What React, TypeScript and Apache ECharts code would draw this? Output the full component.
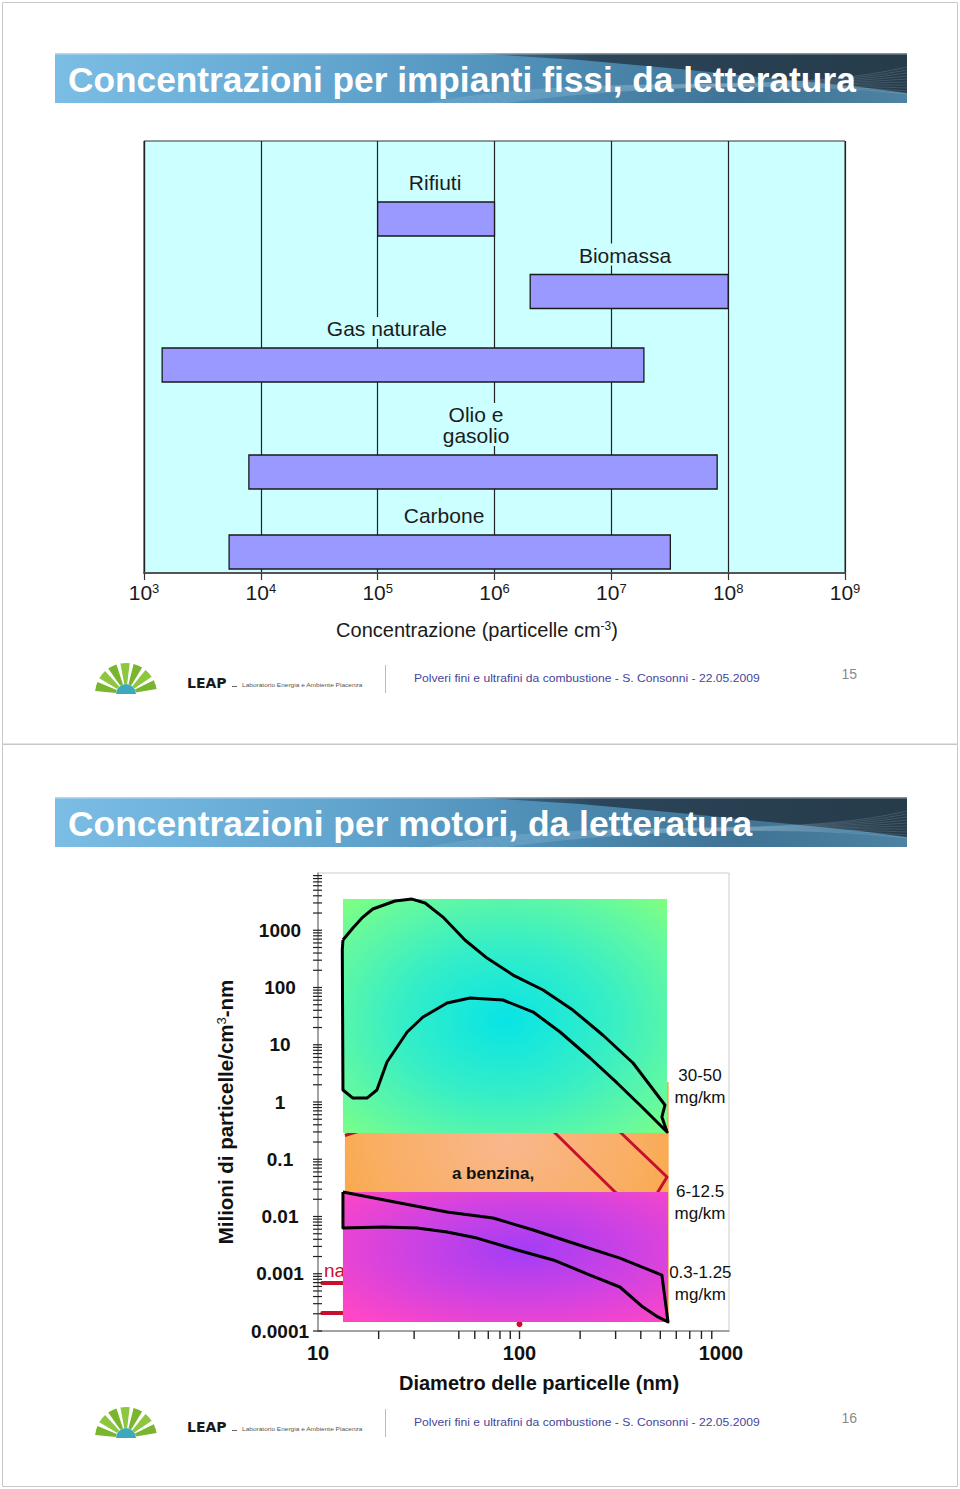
import React, { useEffect, useRef } from 'react';
import * as echarts from 'echarts';

// ---------------- data: slide 15 (stationary plants) ----------------
const plantNames = ['Carbone', 'Olio e\ngasolio', 'Gas naturale', 'Biomassa', 'Rifiuti'];
const plantMin = [5.35e3, 7.9e3, 1.43e3, 2.02e6, 1.0e5];
const plantMax = [3.2e7, 8.05e7, 1.9e7, 1.0e8, 1.0e6];
const plantRow = [2.1, 10.1, 20.8, 28.15, 35.4];
const plantLabelAt = [3.7e5, 6.95e5, 1.2e5, 1.31e7, 3.1e5];

// ---------------- data: slide 16 (engines) ----------------
const concTickLabels = ['0.0001', '0.001', '0.01', '0.1', '1', '10', '100', '1000'];
const diamTickLabels = ['10', '100', '1000'];
const diamMinorTicks = [20, 30, 50, 60, 70, 80, 90, 100, 200, 300, 400, 500, 600, 700, 800, 900];
const concDecades = [1e-4, 1e-3, 1e-2, 1e-1, 1, 10, 100, 1000];
const concMultipliers = [1, 2, 3, 4, 5, 6, 7, 8, 9];

const greenPanel = [13.3, 540, 0.288, 3510];
const orangePanel = [13.6, 550, 1.44e-4, 2.23];
const pinkPanel = [13.3, 546, 1.44e-4, 0.0268];

const greenBand = [
  [13.3, 676], [14.9, 1096], [16.7, 1700], [18.7, 2350], [24.1, 3240], [29.3, 3500], [34.0, 2990],
  [41.7, 1700], [53.6, 676], [69.0, 327], [92.9, 165], [131, 90.4], [184, 40.4], [259, 14.8],
  [366, 4.8], [527, 0.886], [509, 0.547], [540, 0.299],
  [410, 0.785], [305, 2.15], [224, 5.87], [159, 16.7], [117, 37.3], [82.8, 60.5], [56.8, 65.6],
  [43.7, 53.6], [33.2, 30.5], [27.7, 16.7], [22.0, 5.0], [19.6, 1.62], [17.5, 1.17], [14.9, 1.17],
  [13.3, 1.62], [13.2, 452]
];
const pinkBand = [
  [13.3, 0.0268], [25.5, 0.0172], [43.7, 0.012], [73.9, 0.00942], [117, 0.00581], [184, 0.00344],
  [315, 0.00188], [509, 0.00095], [546, 0.000144], [486, 0.000176], [410, 0.000262], [315, 0.000587],
  [224, 0.00095], [147, 0.00174], [97.3, 0.0026], [61.5, 0.0042], [43.7, 0.00536], [31.0, 0.0063],
  [21.0, 0.00656], [13.3, 0.0063]
];
const redArc = [[13.6, 0.26], [15.6, 0.3], [19, 0.42]];
const redLineB = [[138, 0.4], [145, 0.324], [298, 0.0268], [330, 0.02]];
const redLineC = [[300, 0.4], [308, 0.324], [540, 0.049], [486, 0.0268], [470, 0.02]];
const redStubs = [[[10.5, 0.000689], [30, 0.000689]], [[10.5, 0.000206], [30, 0.000206]]];
const redLabelAt = [10.7, 0.00116];
const redDotAt = [100, 1.32e-4];
const benzinaLabelAt = [73.9, 0.0575];
const emissionLabels = ['30-50\nmg/km', '6-12.5\nmg/km', '0.3-1.25\nmg/km'];
const emissionLabelAt = [[787, 1.9], [787, 0.0179], [790, 0.000689]];

const SANS = "'Liberation Sans', Arial, Helvetica, sans-serif";

function measureScale(text: string, font: string, target: number): number {
  try {
    const ctx = document.createElement('canvas').getContext('2d');
    if (!ctx) return 1;
    ctx.font = font;
    const w = ctx.measureText(text).width;
    return w > 0 ? target / w : 1;
  } catch (e) {
    return 1;
  }
}

function bannerElements(y: number, title: string, textWidth: number): any[] {
  const x0 = 55, w = 852, h = 50;
  const els: any[] = [];
  els.push({
    type: 'rect', z: 1, shape: { x: x0, y, width: w, height: h },
    style: {
      fill: new echarts.graphic.LinearGradient(0, 0, 1, 0, [
        { offset: 0, color: '#7BBDE4' }, { offset: 0.3, color: '#64A8D2' },
        { offset: 0.55, color: '#5090B8' }, { offset: 0.8, color: '#3F7395' }, { offset: 1, color: '#4D82A2' }
      ])
    }
  });
  els.push({
    type: 'polygon', z: 2,
    shape: { points: [[470, y], [907, y], [907, y + 40], [860, y + 34], [780, y + 26], [680, y + 16], [580, y + 7]] },
    style: {
      fill: new echarts.graphic.LinearGradient(0, 0, 1, 0, [
        { offset: 0, color: 'rgba(50,80,100,0.5)' }, { offset: 0.3, color: 'rgba(40,62,80,0.9)' },
        { offset: 1, color: 'rgba(36,56,70,0.95)' }
      ])
    }
  });
  for (let i = 0; i < 10; i++) {
    els.push({
      type: 'bezierCurve', z: 3,
      shape: { x1: 430 + i * 8, y1: y + h, cpx1: 600, cpy1: y + 18 + i * 2, cpx2: 780, cpy2: y + 44 - i * 2, x2: 907, y2: y + 14 + i * 3 },
      style: { stroke: 'rgba(220,240,255,0.22)', lineWidth: 0.7, fill: null }
    });
  }
  els.push({ type: 'rect', z: 3, shape: { x: x0, y, width: w, height: 1.5 }, style: { fill: 'rgba(255,255,255,0.45)' } });
  const fontSize = 35;
  const sx = measureScale(title, `bold ${fontSize}px ${SANS}`, textWidth);
  els.push({
    type: 'text', z: 5, x: 68, y: y + 27, scaleX: sx,
    style: { text: title, fontSize, fontWeight: 'bold', fontFamily: SANS, fill: '#ffffff', align: 'left', verticalAlign: 'middle' }
  });
  return els;
}

function footerElements(y0: number, page: string): any[] {
  const els: any[] = [];
  const cx = 126, cy = y0 + 694;
  for (let k = 0; k < 7; k++) {
    const a0 = Math.PI + 0.1 + k * 0.43;
    els.push({
      type: 'sector', z: 2,
      shape: { cx, cy, r: 31, r0: 10, startAngle: a0, endAngle: a0 + 0.3, clockwise: true },
      style: { fill: k % 2 ? '#8DC63F' : '#7AB530' }
    });
  }
  els.push({
    type: 'sector', z: 3,
    shape: { cx, cy, r: 10, r0: 0, startAngle: Math.PI, endAngle: 2 * Math.PI, clockwise: true },
    style: { fill: '#3FA9BC' }
  });
  els.push({
    type: 'text', z: 3, x: 187, y: y0 + 683,
    style: { text: 'LEAP', fontSize: 14, fontWeight: 'bold', fontFamily: "'DejaVu Sans', sans-serif", fill: '#1a1a1a', align: 'left', verticalAlign: 'middle' }
  });
  els.push({ type: 'rect', z: 3, shape: { x: 232, y: y0 + 686, width: 5, height: 1 }, style: { fill: '#666' } });
  const small = 'Laboratorio Energia e Ambiente Piacenza';
  els.push({
    type: 'text', z: 3, x: 242, y: y0 + 685, scaleX: measureScale(small, `6px ${SANS}`, 121),
    style: { text: small, fontSize: 6, fontFamily: SANS, fill: '#555', align: 'left', verticalAlign: 'middle' }
  });
  els.push({ type: 'line', z: 3, shape: { x1: 385.5, y1: y0 + 665, x2: 385.5, y2: y0 + 693 }, style: { stroke: '#BBBBBB', lineWidth: 1 } });
  const foot = 'Polveri fini e ultrafini da combustione - S. Consonni - 22.05.2009';
  els.push({
    type: 'text', z: 3, x: 414, y: y0 + 678, scaleX: measureScale(foot, `10px ${SANS}`, 346),
    style: { text: foot, fontSize: 10, fontFamily: SANS, fill: '#45459A', align: 'left', verticalAlign: 'middle' }
  });
  els.push({
    type: 'text', z: 3, x: 857, y: y0 + 674,
    style: { text: page, fontSize: 14, fontFamily: SANS, fill: '#8a8a8a', align: 'right', verticalAlign: 'middle' }
  });
  return els;
}

function panelSeries(box: number[], z: number, fill: any): any {
  return {
    type: 'custom', xAxisIndex: 1, yAxisIndex: 1, z, clip: false, silent: true,
    data: [box],
    renderItem: (params: any, api: any) => {
      const p0 = api.coord([api.value(0), api.value(3)]);
      const p1 = api.coord([api.value(1), api.value(2)]);
      return { type: 'rect', shape: { x: p0[0], y: p0[1], width: p1[0] - p0[0], height: p1[1] - p0[1] }, style: { fill } };
    }
  };
}

export default function App() {
  const ref = useRef<HTMLDivElement>(null);
  useEffect(() => {
    if (!ref.current) return;
    const chart = echarts.init(ref.current, undefined, { renderer: 'svg' });

    const graphics: any[] = [];
    graphics.push({ type: 'rect', z: 0, silent: true, shape: { x: 2.5, y: 2.5, width: 955, height: 741.5 }, style: { fill: null, stroke: '#C8C8C8', lineWidth: 1 } });
    graphics.push({ type: 'rect', z: 0, silent: true, shape: { x: 2.5, y: 744.5, width: 955, height: 742 }, style: { fill: null, stroke: '#C8C8C8', lineWidth: 1 } });
    graphics.push(...bannerElements(53, 'Concentrazioni per impianti fissi, da letteratura', 788));
    graphics.push(...bannerElements(797, 'Concentrazioni per motori, da letteratura', 684));
    graphics.push(...footerElements(0, '15'));
    graphics.push(...footerElements(744, '16'));
    graphics.push({
      type: 'text', z: 10, x: 477, y: 630,
      style: {
        text: 'Concentrazione (particelle cm{s|-3})', fontSize: 20, fontFamily: SANS, fill: '#1a1a1a',
        align: 'center', verticalAlign: 'middle',
        rich: { s: { fontSize: 12, fontFamily: SANS, fill: '#1a1a1a', verticalAlign: 'top' } }
      }
    });
    graphics.push({
      type: 'text', z: 10, x: 225, y: 1112, rotation: Math.PI / 2,
      style: {
        text: 'Milioni di particelle/cm{s|3}-nm', fontSize: 20.5, fontWeight: 'bold', fontFamily: SANS, fill: '#111',
        align: 'center', verticalAlign: 'middle',
        rich: { s: { fontSize: 13, fontFamily: SANS, fill: '#111', verticalAlign: 'top' } }
      }
    });
    graphics.push({
      type: 'text', z: 10, x: 539, y: 1383,
      style: { text: 'Diametro delle particelle (nm)', fontSize: 20, fontWeight: 'bold', fontFamily: SANS, fill: '#111', align: 'center', verticalAlign: 'middle' }
    });

    const isDecade = (v: number) => Math.abs(Math.log10(v) - Math.round(Math.log10(v))) < 1e-6;

    const option: any = {
      animation: false,
      backgroundColor: '#ffffff',
      graphic: { elements: graphics },
      grid: [
        { left: 144, top: 141, width: 701, height: 432, show: true, backgroundColor: '#CCFFFF', borderColor: '#333', borderWidth: 1 },
        { left: 318, top: 873, width: 411, height: 458, show: true, backgroundColor: 'rgba(0,0,0,0)', borderColor: '#CCCCCC', borderWidth: 1 }
      ],
      xAxis: [
        {
          type: 'log', logBase: 10, gridIndex: 0, min: 1e3, max: 1e9,
          axisLine: { show: true, onZero: false, lineStyle: { color: '#555', width: 2 } },
          axisTick: { show: true, length: 7, lineStyle: { color: '#333', width: 1.2 } },
          splitLine: { show: true, lineStyle: { color: '#222', width: 1.2 } },
          axisLabel: {
            margin: 9, showMinLabel: true, showMaxLabel: true,
            formatter: (v: number) => `{b|10}{s|${Math.round(Math.log10(v))}}`,
            rich: {
              b: { fontSize: 21, fontFamily: SANS, color: '#1a1a1a' },
              s: { fontSize: 13, fontFamily: SANS, color: '#1a1a1a', verticalAlign: 'top' }
            }
          }
        },
        {
          type: 'log', logBase: 10, gridIndex: 1, min: 10, max: 1096,
          axisLine: { show: true, onZero: false, lineStyle: { color: '#8c8c8c', width: 1.5 } },
          axisTick: { show: false },
          splitLine: { show: false },
          axisLabel: {
            margin: 12, showMaxLabel: false, fontSize: 20, fontWeight: 'bold', fontFamily: SANS, color: '#111',
            formatter: (v: number) => {
              if (!isDecade(v)) return '';
              const k = Math.round(Math.log10(v)) - 1;
              return k >= 0 && k < diamTickLabels.length ? diamTickLabels[k] : '';
            }
          }
        }
      ],
      yAxis: [
        { type: 'value', gridIndex: 0, min: 0, max: 43.2, show: false },
        {
          type: 'log', logBase: 10, gridIndex: 1, min: 1e-4, max: 1e4, splitNumber: 8,
          axisLine: { show: true, onZero: false, lineStyle: { color: '#8c8c8c', width: 1.5 } },
          axisTick: { show: false },
          splitLine: { show: false },
          axisLabel: {
            margin: 38, align: 'center', fontSize: 19, fontWeight: 'bold', fontFamily: SANS, color: '#111',
            formatter: (v: number) => {
              if (!isDecade(v)) return '';
              const k = Math.round(Math.log10(v)) + 4;
              return k >= 0 && k < concTickLabels.length ? concTickLabels[k] : '';
            }
          }
        }
      ],
      series: [
        {
          type: 'custom', xAxisIndex: 0, yAxisIndex: 0, z: 3, clip: false, silent: true,
          data: plantNames.map((n, i) => [plantMin[i], plantMax[i], plantRow[i], plantLabelAt[i]]),
          encode: { x: [0, 1], y: 2 },
          renderItem: (params: any, api: any) => {
            const i = params.dataIndex;
            const row = api.value(2);
            const a = api.coord([api.value(0), row + 1.7]);
            const b = api.coord([api.value(1), row - 1.7]);
            const l = api.coord([api.value(3), row]);
            return {
              type: 'group',
              children: [
                { type: 'rect', shape: { x: a[0], y: a[1], width: b[0] - a[0], height: b[1] - a[1] }, style: { fill: '#9A99FF', stroke: '#1a1a1a', lineWidth: 1.3 } },
                {
                  type: 'text', x: l[0], y: a[1] - 9,
                  style: {
                    text: plantNames[i], fontSize: 21, lineHeight: 21, fontFamily: SANS, fill: '#1c1c1c',
                    align: 'center', verticalAlign: 'bottom', backgroundColor: '#CCFFFF', padding: [1, 3, 0, 3]
                  }
                }
              ]
            };
          }
        },
        panelSeries(orangePanel, 2, new echarts.graphic.RadialGradient(0.5, 0.25, 0.7, [
          { offset: 0, color: '#F9B78E' }, { offset: 0.6, color: '#F9AE60' }, { offset: 1, color: '#F9A235' }
        ])),
        {
          type: 'custom', xAxisIndex: 1, yAxisIndex: 1, z: 3, clip: false, silent: true,
          data: [[100, 1]],
          renderItem: (params: any, api: any) => {
            const red = '#C8102E';
            const pts = (arr: number[][]) => arr.map((p) => api.coord(p));
            const children: any[] = [];
            [redArc, redLineB, redLineC].forEach((arr) => {
              children.push({ type: 'polyline', shape: { points: pts(arr) }, style: { stroke: red, lineWidth: 3, fill: null, lineJoin: 'round' } });
            });
            redStubs.forEach((arr) => {
              children.push({ type: 'polyline', shape: { points: pts(arr) }, style: { stroke: red, lineWidth: 4, fill: null, lineCap: 'round' } });
            });
            const t = api.coord(redLabelAt);
            children.push({ type: 'text', x: t[0], y: t[1], style: { text: 'nanoparticelle', fontSize: 19, fontFamily: SANS, fill: red, align: 'left', verticalAlign: 'middle' } });
            const d = api.coord(redDotAt);
            children.push({ type: 'circle', shape: { cx: d[0], cy: d[1], r: 3 }, style: { fill: red } });
            const bz = api.coord(benzinaLabelAt);
            children.push({ type: 'text', x: bz[0], y: bz[1], style: { text: 'a benzina,', fontSize: 17, fontWeight: 'bold', fontFamily: SANS, fill: '#111', align: 'center', verticalAlign: 'middle' } });
            return { type: 'group', children };
          }
        },
        panelSeries(greenPanel, 4, new echarts.graphic.RadialGradient(0.5, 0.52, 0.72, [
          { offset: 0, color: '#08E4E6' }, { offset: 0.45, color: '#36EEC6' }, { offset: 0.78, color: '#62F8A2' }, { offset: 1, color: '#80FF80' }
        ])),
        {
          type: 'line', xAxisIndex: 1, yAxisIndex: 1, z: 5, silent: true, symbol: 'none', clip: false,
          data: [...greenBand, greenBand[0]],
          lineStyle: { color: '#000', width: 3, join: 'round' }
        },
        panelSeries(pinkPanel, 6, new echarts.graphic.RadialGradient(0.55, 0.45, 0.72, [
          { offset: 0, color: '#A33DF6' }, { offset: 0.5, color: '#CF42E2' }, { offset: 1, color: '#FF46C6' }
        ])),
        {
          type: 'line', xAxisIndex: 1, yAxisIndex: 1, z: 7, silent: true, symbol: 'none', clip: false,
          data: [...pinkBand, pinkBand[0]],
          lineStyle: { color: '#000', width: 3, join: 'round' }
        },
        {
          type: 'custom', xAxisIndex: 1, yAxisIndex: 1, z: 9, clip: false, silent: true,
          data: diamMinorTicks.map((v) => [v, 1e-4]),
          renderItem: (params: any, api: any) => {
            const p = api.coord([api.value(0), 1e-4]);
            return { type: 'line', shape: { x1: p[0], y1: p[1], x2: p[0], y2: p[1] + 8 }, style: { stroke: '#222', lineWidth: 1.4 } };
          }
        },
        {
          type: 'custom', xAxisIndex: 1, yAxisIndex: 1, z: 9, clip: false, silent: true,
          data: concDecades.flatMap((dd) => concMultipliers.map((m) => [10, dd * m])),
          renderItem: (params: any, api: any) => {
            const p = api.coord([10, api.value(1)]);
            return { type: 'line', shape: { x1: p[0] - 5, y1: p[1], x2: p[0] + 4, y2: p[1] }, style: { stroke: '#222', lineWidth: 1.2 } };
          }
        },
        {
          type: 'custom', xAxisIndex: 1, yAxisIndex: 1, z: 10, clip: false, silent: true,
          data: emissionLabelAt,
          renderItem: (params: any, api: any) => {
            const p = api.coord([api.value(0), api.value(1)]);
            return {
              type: 'text', x: p[0], y: p[1],
              style: { text: emissionLabels[params.dataIndex], fontSize: 17, lineHeight: 22, fontFamily: SANS, fill: '#111', align: 'center', verticalAlign: 'middle' }
            };
          }
        }
      ]
    };

    chart.setOption(option);
    return () => {
      chart.dispose();
    };
  }, []);

  return (
    <div
      ref={ref}
      style={{ position: 'absolute', left: 0, top: 0, width: 960, height: 1489, background: '#fff' }}
    />
  );
}
